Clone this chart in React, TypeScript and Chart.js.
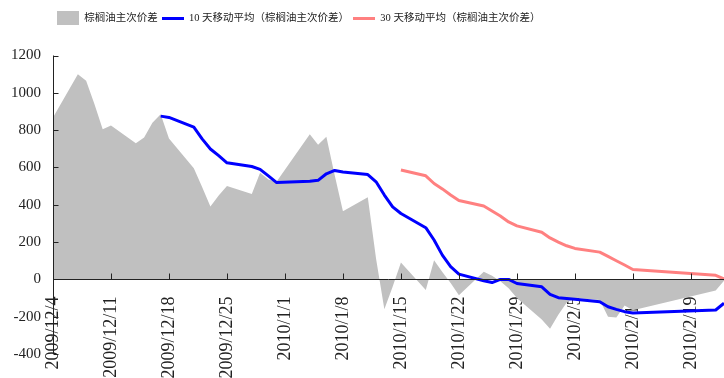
import React, { useEffect, useRef } from 'react';
import { Chart, registerables } from 'chart.js';

Chart.register(...registerables);

// Trading days shown in the chart
const tradingDates: string[] = [
  '2009/12/4', '2009/12/7', '2009/12/8', '2009/12/9', '2009/12/10', '2009/12/11',
  '2009/12/14', '2009/12/15', '2009/12/16', '2009/12/17', '2009/12/18',
  '2009/12/21', '2009/12/22', '2009/12/23', '2009/12/24', '2009/12/25',
  '2009/12/28', '2009/12/29', '2009/12/30', '2009/12/31',
  '2010/1/4', '2010/1/5', '2010/1/6', '2010/1/7', '2010/1/8',
  '2010/1/11', '2010/1/12', '2010/1/13', '2010/1/14', '2010/1/15',
  '2010/1/18', '2010/1/19', '2010/1/20', '2010/1/21', '2010/1/22',
  '2010/1/25', '2010/1/26', '2010/1/27', '2010/1/28', '2010/1/29',
  '2010/2/1', '2010/2/2', '2010/2/3', '2010/2/4', '2010/2/5',
  '2010/2/8', '2010/2/9', '2010/2/10', '2010/2/11', '2010/2/12',
  '2010/2/22', '2010/2/23',
];

// 棕榈油主次价差
const spread: number[] = [
  868, 1100, 1065, 940, 805, 825,
  730, 760, 840, 885, 755,
  595, 495, 390, 450, 500,
  458, 572, 535, 525,
  778, 722, 765, 560, 365,
  440, 110, -160, -40, 90,
  -57, 103, 40, -20, -85,
  41, 20, -10, -48, -100,
  -215, -265, -190, -125, -100,
  -110, -200, -205, -140, -165,
  -60, -8,
];

// 10 天移动平均
const ma10: (number | null)[] = [
  null, null, null, null, null, null,
  null, null, null, 875, 868,
  816, 753, 699, 663, 625,
  605, 590, 555, 519,
  526, 531, 566, 584, 576,
  562, 523, 452, 389, 353,
  277, 211, 130, 68, 28,
  -7, -17, 0, 0, -22,
  -40, -80, -98, -102, -106,
  -120, -147, -161, -173, -180,
  -164, -128,
];

// 30 天移动平均
const ma30: (number | null)[] = [
  null, null, null, null, null, null,
  null, null, null, null, null,
  null, null, null, null, null,
  null, null, null, null,
  null, null, null, null, null,
  null, null, null, null, 586,
  555, 514, 485, 452, 423,
  393, 366, 340, 308, 287,
  253, 222, 200, 180, 166,
  146, 123, 100, 77, 53,
  22, 3,
];

const tickLabels: string[] = [
  '2009/12/4', '2009/12/11', '2009/12/18', '2009/12/25', '2010/1/1', '2010/1/8',
  '2010/1/15', '2010/1/22', '2010/1/29', '2010/2/5', '2010/2/12', '2010/2/19',
];
const axisEndDate = '2010/2/23';

const seriesLabels = ['棕榈油主次价差', '10 天移动平均（棕榈油主次价差）', '30 天移动平均（棕榈油主次价差）'];
const seriesColors = ['#c0c0c0', '#0000ff', '#ff8080'];

const yMin = -400;
const yMax = 1200;
const yStep = 200;

const dayNum = (s: string) => {
  const [y, m, d] = s.split('/').map(Number);
  return Date.UTC(y, m - 1, d) / 86400000;
};
const origin = dayNum(tradingDates[0]);
const toPoints = (vals: (number | null)[]) =>
  vals
    .map((v, i) => (v == null ? null : { x: dayNum(tradingDates[i]) - origin, y: v }))
    .filter((p) => p !== null) as { x: number; y: number }[];

function makeMarker(kind: 'rect' | 'line', color: string): HTMLCanvasElement {
  const c = document.createElement('canvas');
  c.width = 22;
  c.height = kind === 'rect' ? 14 : 3;
  const g = c.getContext('2d')!;
  g.fillStyle = color;
  g.fillRect(0, 0, c.width, c.height);
  return c;
}

export default function App() {
  const ref = useRef<HTMLCanvasElement | null>(null);

  useEffect(() => {
    if (!ref.current) return;
    const markers = [
      makeMarker('rect', seriesColors[0]),
      makeMarker('line', seriesColors[1]),
      makeMarker('line', seriesColors[2]),
    ];
    const axisPlugin = {
      id: 'excelAxes',
      beforeInit(chart: any) {
        if (chart.legend) {
          const fit = chart.legend.fit;
          chart.legend.fit = function () {
            fit.call(this);
            this.height += 23;
          };
        }
      },
      afterLayout(chart: any) {
        if (chart.legend) {
          chart.legend.left = chart.chartArea.left;
          chart.legend.top += 1;
        }
      },
      afterDatasetsDraw(chart: any) {
        const { ctx, chartArea, scales } = chart;
        const xs = scales.x;
        const ys = scales.y;
        const left = Math.round(chartArea.left) + 0.5;
        const y0 = Math.round(ys.getPixelForValue(0)) + 0.5;
        ctx.save();
        ctx.strokeStyle = '#222';
        ctx.lineWidth = 1;
        ctx.beginPath();
        ctx.moveTo(left, chartArea.top);
        ctx.lineTo(left, chartArea.bottom);
        ys.ticks.forEach((t: any) => {
          const py = Math.round(ys.getPixelForValue(t.value)) + 0.5;
          ctx.moveTo(left, py);
          ctx.lineTo(left + 5, py);
        });
        ctx.moveTo(chartArea.left, y0);
        ctx.lineTo(chartArea.right, y0);
        xs.ticks.forEach((t: any) => {
          const px = Math.round(xs.getPixelForValue(t.value)) + 0.5;
          ctx.moveTo(px, y0);
          ctx.lineTo(px, y0 - 6);
        });
        ctx.stroke();
        ctx.restore();
      },
    };

    const chart = new Chart(ref.current, {
      type: 'line',
      data: {
        datasets: [
          {
            label: seriesLabels[0],
            data: toPoints(spread),
            fill: 'origin',
            backgroundColor: seriesColors[0],
            borderColor: 'rgba(0,0,0,0)',
            borderWidth: 0,
            pointRadius: 0,
            order: 3,
          },
          {
            label: seriesLabels[1],
            data: toPoints(ma10),
            fill: false,
            borderColor: seriesColors[1],
            backgroundColor: seriesColors[1],
            borderWidth: 3,
            borderJoinStyle: 'round',
            pointRadius: 0,
            order: 2,
          },
          {
            label: seriesLabels[2],
            data: toPoints(ma30),
            fill: false,
            borderColor: seriesColors[2],
            backgroundColor: seriesColors[2],
            borderWidth: 3,
            borderJoinStyle: 'round',
            pointRadius: 0,
            order: 1,
          },
        ] as any,
      },
      options: {
        animation: false,
        responsive: true,
        maintainAspectRatio: false,
        events: [],
        layout: { padding: { left: 0, right: 0, top: 8, bottom: 24 } },
        scales: {
          x: {
            type: 'linear',
            min: 0,
            max: dayNum(axisEndDate) - origin,
            position: { y: 0 } as any,
            grid: { display: false },
            border: { display: false },
            afterBuildTicks: (scale: any) => {
              scale.ticks = tickLabels.map((l) => ({ value: dayNum(l) - origin }));
            },
            ticks: {
              autoSkip: false,
              minRotation: 90,
              maxRotation: 90,
              padding: 9,
              color: '#222',
              font: { family: "'Liberation Serif'", size: 18 },
              callback: (_v: any, i: number) => tickLabels[i],
            },
          },
          y: {
            min: yMin,
            max: yMax,
            grid: { display: false },
            border: { display: false },
            afterFit: (scale: any) => {
              scale.width = 53;
            },
            ticks: {
              stepSize: yStep,
              padding: 4,
              color: '#222',
              font: { family: "'Liberation Serif'", size: 15 },
              callback: (v: any) => String(v),
            },
          },
        },
        plugins: {
          tooltip: { enabled: false },
          legend: {
            position: 'top',
            align: 'start',
            labels: {
              usePointStyle: true,
              pointStyleWidth: 22,
              padding: 4,
              color: '#222',
              font: { family: "'Liberation Serif', 'Noto Sans CJK SC'", size: 10.5 },
              generateLabels: () =>
                seriesLabels.map((text, i) => ({
                  text,
                  fillStyle: seriesColors[i],
                  strokeStyle: seriesColors[i],
                  lineWidth: 0,
                  pointStyle: markers[i] as any,
                  hidden: false,
                  datasetIndex: i,
                  fontColor: '#222',
                })),
            },
          },
        },
      } as any,
      plugins: [axisPlugin],
    });
    return () => chart.destroy();
  }, []);

  return (
    <div style={{ position: 'absolute', left: 0, top: 0, width: 724, height: 378, background: '#fff' }}>
      <canvas ref={ref} />
    </div>
  );
}
